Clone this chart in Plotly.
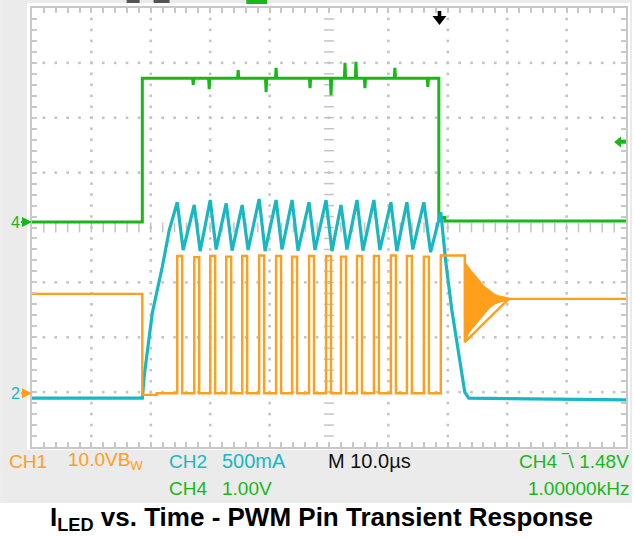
import numpy as np
import plotly.graph_objects as go

# ---------------- data (time in µs, 10 µs/div; vertical in screen divisions, 0 = bottom) -------------
# CH4 – PWM input (green)
ch4_t = [0.0, 18.57, 18.57, 68.49, 68.49, 69.5, 69.5, 100.0]
ch4_v = [4.10, 4.10, 6.72, 6.72, 4.18, 4.18, 4.12, 4.12]
ch4_spike_t = [27.14, 29.83, 34.71, 39.41, 41.09, 46.81, 50.34, 52.69, 54.54, 56.05, 61.09, 66.64]
ch4_spike_v = [6.60, 6.52, 6.87, 6.47, 6.91, 6.54, 6.41, 7.00, 7.02, 6.54, 6.91, 6.56]

# CH1 – switch node (orange)
ch1_pre_t = [0.0, 18.57, 18.57, 21.0, 21.0]
ch1_pre_v = [2.79, 2.79, 0.95, 0.95, 0.98]
ch1_rise_t = [24.45, 27.31, 30.00, 32.69, 35.38, 38.24, 41.09, 43.78, 46.64, 49.50,
              52.02, 54.71, 57.56, 60.42, 63.11, 65.97, 68.82]
ch1_fall_t = [25.29, 28.15, 30.84, 33.53, 36.22, 39.08, 41.93, 44.62, 47.48, 50.34,
              52.86, 55.55, 58.40, 61.26, 63.95, 66.81, 72.86]
ch1_high = [3.48, 3.46, 3.48, 3.47, 3.48, 3.49, 3.48, 3.47, 3.48, 3.48,
            3.47, 3.48, 3.48, 3.49, 3.48, 3.47, 3.49]
ch1_low = 0.98
ch1_ring_t = [72.86, 73.53, 74.37, 75.21, 76.05, 76.89, 77.73, 78.57, 80.25]
ch1_ring_hi = [3.37, 3.26, 3.15, 3.04, 2.93, 2.86, 2.79, 2.75, 2.71]
ch1_ring_lo = [1.91, 2.09, 2.20, 2.31, 2.42, 2.53, 2.60, 2.64, 2.68]
ch1_post_t = [80.25, 100.0]
ch1_post_v = [2.70, 2.70]

# CH2 – LED current (cyan)
ch2_rise_t = [0.0, 18.57, 18.91, 20.25, 21.93, 23.11]
ch2_rise_v = [0.89, 0.89, 1.31, 2.44, 3.28, 3.95]
ch2_peak_t = ch1_rise_t[:16]
ch2_peak_v = [4.46, 4.41, 4.50, 4.44, 4.41, 4.52, 4.50, 4.50, 4.46, 4.50, 4.41, 4.50, 4.50, 4.46, 4.46, 4.46]
ch2_trough_t = [25.45, 28.31, 31.00, 33.69, 36.38, 39.24, 42.09, 44.78, 47.64, 50.50,
                53.02, 55.71, 58.56, 61.42, 64.11, 67.10]
ch2_trough_v = [3.59, 3.57, 3.60, 3.58, 3.59, 3.57, 3.60, 3.58, 3.59, 3.57, 3.60, 3.58, 3.59, 3.57, 3.60, 3.55]
ch2_fall_t = [68.82, 69.66, 70.67, 71.85, 72.86, 73.53, 100.0]
ch2_fall_v = [4.28, 3.37, 2.50, 1.64, 1.00, 0.89, 0.86]

# trigger markers
trig_pos_t = 68.6     # horizontal trigger position (µs)
trig_level_v = 5.56   # CH4 trigger level (div)

ORANGE = "#ff9f1c"
CYAN = "#19b7c2"
GREEN = "#17b817"
GRID = "#c4c4c4"

W, H = 634, 537
L, R, T, B = 32, 6, 8, 90
PW, PH = W - L - R, H - T - B


def px(xp):
    return (xp - L) / PW


def py(yp):
    return (H - B - yp) / PH


fig = go.Figure()

# ---------------- graticule ----------------
gx, gy = [], []
for xv in range(10, 100, 10):
    if xv == 50:
        continue
    for yv in np.arange(0.2, 8.0, 0.2):
        gx.append(xv); gy.append(yv)
for yv in range(1, 8):
    if yv == 4:
        continue
    for xv in np.arange(2, 100, 2):
        gx.append(xv); gy.append(yv)
fig.add_trace(go.Scatter(x=gx, y=gy, mode="markers", hoverinfo="skip",
                         marker=dict(size=2.6, color=GRID, symbol="square")))
cy = list(np.arange(0.2, 8.0, 0.2))
fig.add_trace(go.Scatter(x=[50] * len(cy), y=cy, mode="markers", hoverinfo="skip",
                         marker=dict(size=7, symbol="line-ew", line=dict(color=GRID, width=1.5))))
cxs = list(np.arange(2, 100, 2))
fig.add_trace(go.Scatter(x=cxs, y=[4] * len(cxs), mode="markers", hoverinfo="skip",
                         marker=dict(size=7, symbol="line-ns", line=dict(color=GRID, width=1.5))))

# ---------------- CH4 (green) ----------------
g_t = ch4_t[:3]
g_v = ch4_v[:3]
for st, sv in zip(ch4_spike_t, ch4_spike_v):
    g_t += [st - 0.1, st, st + 0.1]
    g_v += [ch4_v[2], sv, ch4_v[2]]
g_t += ch4_t[3:]
g_v += ch4_v[3:]
fig.add_trace(go.Scatter(x=g_t, y=g_v, mode="lines", line=dict(color=GREEN, width=3), hoverinfo="skip"))

# ---------------- CH2 (cyan) ----------------
c_t = list(ch2_rise_t)
c_v = list(ch2_rise_v)
for a, b, c, d in zip(ch2_peak_t, ch2_peak_v, ch2_trough_t, ch2_trough_v):
    c_t += [a, c]
    c_v += [b, d]
c_t += ch2_fall_t
c_v += ch2_fall_v
fig.add_trace(go.Scatter(x=c_t, y=c_v, mode="lines", line=dict(color=CYAN, width=3.2), hoverinfo="skip"))

# ---------------- CH1 (orange) ----------------
o_t = list(ch1_pre_t)
o_v = list(ch1_pre_v)
for r, f, h in zip(ch1_rise_t, ch1_fall_t, ch1_high):
    o_t += [r, r, f, f]
    o_v += [ch1_low, h, h, ch1_ring_lo[0] if f == ch1_fall_t[-1] else ch1_low]
o_t += ch1_post_t
o_v += ch1_post_v
fig.add_trace(go.Scatter(x=o_t, y=o_v, mode="lines", line=dict(color=ORANGE, width=2.4), hoverinfo="skip"))
fig.add_trace(go.Scatter(x=ch1_ring_t + ch1_ring_t[::-1], y=ch1_ring_hi + ch1_ring_lo[::-1],
                         mode="lines", fill="toself", fillcolor=ORANGE,
                         line=dict(color=ORANGE, width=1.5), hoverinfo="skip"))

# ---------------- background panels & markers ----------------
us_per_px = 100.0 / PW
div_per_px = 8.0 / PH
tp, tl = trig_pos_t, trig_level_v
y_top = 8 - 3 * div_per_px
shapes = [
    dict(type="rect", xref="paper", yref="paper", x0=px(0), x1=px(W), y0=py(503), y1=py(0),
         fillcolor="#ebebeb", line=dict(width=0), layer="below"),
    dict(type="rect", xref="paper", yref="paper", x0=px(27), x1=px(632), y0=py(450), y1=py(3),
         fillcolor="white", line=dict(width=0), layer="below"),
    # cropped header fragments at the very top
    dict(type="rect", xref="paper", yref="paper", x0=px(127), x1=px(140), y0=py(3), y1=py(0),
         fillcolor="#555555", line=dict(width=0)),
    dict(type="rect", xref="paper", yref="paper", x0=px(154), x1=px(170), y0=py(3), y1=py(0),
         fillcolor="#555555", line=dict(width=0)),
    dict(type="rect", xref="paper", yref="paper", x0=px(247), x1=px(268), y0=py(4), y1=py(0),
         fillcolor=GREEN, line=dict(width=0)),
    # trigger position arrow (black, pointing down)
    dict(type="path", xref="x", yref="y",
         path=(f"M {tp - 1.8*us_per_px},{y_top} L {tp + 1.8*us_per_px},{y_top} "
               f"L {tp + 1.8*us_per_px},{8 - 8*div_per_px} L {tp + 7*us_per_px},{8 - 8*div_per_px} "
               f"L {tp},{8 - 17*div_per_px} L {tp - 7*us_per_px},{8 - 8*div_per_px} "
               f"L {tp - 1.8*us_per_px},{8 - 8*div_per_px} Z"),
         fillcolor="black", line=dict(width=0)),
    # trigger level arrow (green, pointing left)
    dict(type="path", xref="x", yref="y",
         path=(f"M 100,{tl + 1.8*div_per_px} L {100 - 5*us_per_px},{tl + 1.8*div_per_px} "
               f"L {100 - 5*us_per_px},{tl + 5.5*div_per_px} L {100 - 12*us_per_px},{tl} "
               f"L {100 - 5*us_per_px},{tl - 5.5*div_per_px} L {100 - 5*us_per_px},{tl - 1.8*div_per_px} "
               f"L 100,{tl - 1.8*div_per_px} Z"),
         fillcolor=GREEN, line=dict(width=0)),
]

font_scope = "Liberation Sans, Arial, sans-serif"
FS = 19
ann = []


def txt(s, xp, yp, color, anchor="left", size=FS):
    ann.append(dict(text=s, x=px(xp), y=py(yp), xref="paper", yref="paper", showarrow=False,
                    xanchor=anchor, yanchor="middle", font=dict(family=font_scope, size=size, color=color)))


txt("CH1", 7, 461, ORANGE)
txt("10.0VB<sub>W</sub>", 66, 461, ORANGE)
txt("CH2", 167, 461, CYAN)
txt("500mA", 221, 461, CYAN, size=20)
txt("M 10.0µs", 327, 461, "#111111", size=20)
txt("CH4 ‾\\ 1.48V", 633, 461, GREEN, anchor="right")
txt("CH4", 167, 489, GREEN)
txt("1.00V", 221, 489, GREEN)
txt("1.00000kHz", 633, 489, GREEN, anchor="right")

ann.append(dict(text="<b>I<sub>LED</sub> vs. Time - PWM Pin Transient Response</b>", x=px(322), y=py(518),
                xref="paper", yref="paper", showarrow=False, xanchor="center", yanchor="middle",
                font=dict(family="Liberation Sans, Arial, sans-serif", size=26, color="black")))

# ground-level markers
ann.append(dict(text="4", x=0, y=ch4_v[0], xref="x", yref="y", ax=-17, ay=0, showarrow=True,
                arrowhead=2, arrowsize=1, arrowwidth=2, arrowcolor=GREEN,
                font=dict(family=font_scope, size=16, color=GREEN)))
ann.append(dict(text="2", x=0, y=ch1_low, xref="x", yref="y", ax=-17, ay=0, showarrow=True,
                arrowhead=2, arrowsize=1, arrowwidth=2, arrowcolor=ORANGE,
                font=dict(family=font_scope, size=16, color=CYAN)))

axis_common = dict(showgrid=False, zeroline=False, showticklabels=False, showline=True,
                   linecolor="#c8c8c8", linewidth=2, mirror="allticks", ticks="inside",
                   ticklen=5, tickcolor="#c8c8c8", tickwidth=1.5)
fig.update_layout(
    width=W, height=H, margin=dict(l=L, r=R, t=T, b=B),
    paper_bgcolor="white", plot_bgcolor="rgba(0,0,0,0)",
    showlegend=False, shapes=shapes, annotations=ann,
    xaxis=dict(range=[0, 100], dtick=10, fixedrange=True,
               minor=dict(dtick=2, ticks="inside", ticklen=5, tickcolor="#c8c8c8", showgrid=False),
               **axis_common),
    yaxis=dict(range=[0, 8], dtick=1, fixedrange=True,
               minor=dict(dtick=0.2, ticks="inside", ticklen=5, tickcolor="#c8c8c8", showgrid=False),
               **axis_common),
)

fig.write_html("out.html", config={"displayModeBar": False},
               post_script="document.body.style.margin='0';document.body.style.overflow='hidden';")
